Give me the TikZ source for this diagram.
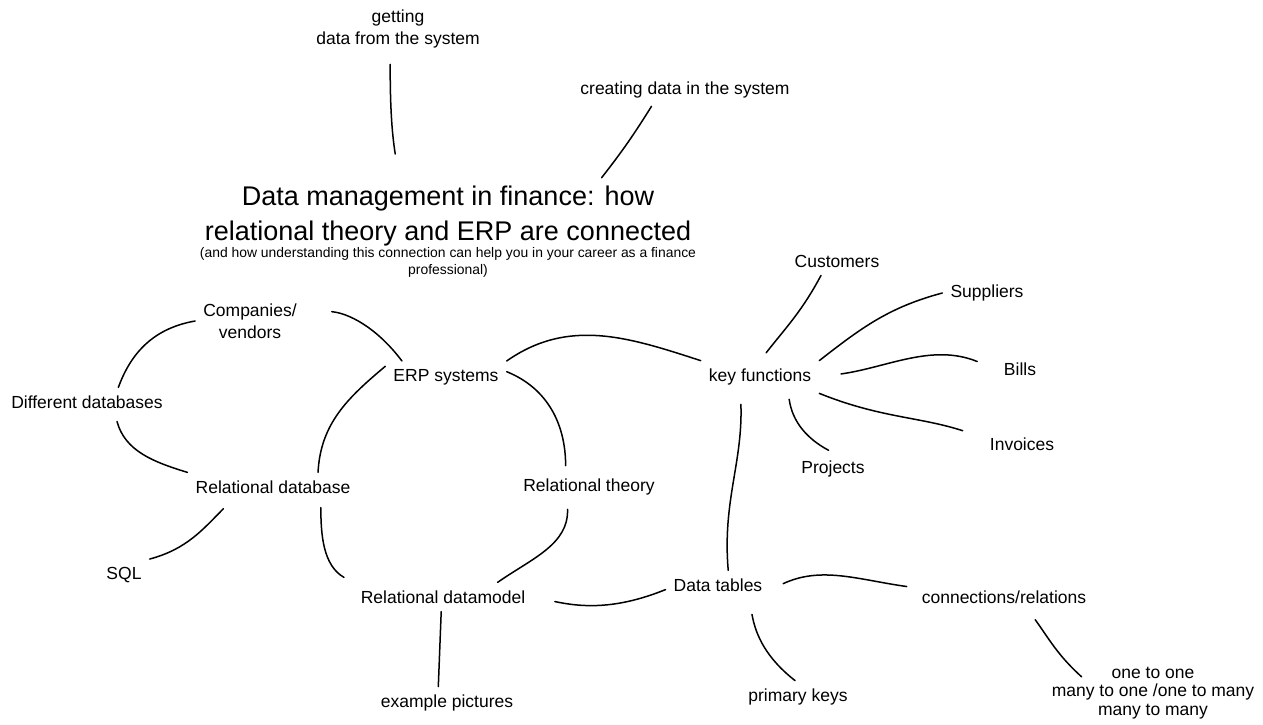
\documentclass[tikz,border=0pt]{standalone}
\usepackage{fontspec}
\setmainfont{Liberation Sans}

\begin{document}
\begin{tikzpicture}[x=1pt,y=1pt,
    topic/.style={font=\fontsize{17.5}{22}\selectfont, align=center, inner sep=8pt},
    branch/.style={line width=1.5pt, line cap=round}]
    % Page and margins
    \fill[white] (0,0) rectangle (1263,-725);
    \useasboundingbox (0,0) rectangle (1263,-725);
    % Draw title
    \node[align=center, font=\fontsize{27}{35}\selectfont, inner sep=8pt] (title) at (448,-216) {Data management in finance: how\\relational theory and ERP are connected};
    \node[align=center, font=\fontsize{13.9}{17}\selectfont, inner sep=0pt] (sub) at (448,-262) {(and how understanding this connection can help you in your career as a finance\\professional)};
    % Draw topics
    \node[topic] (get) at (398,-29) {getting\\data from the system};
    \node[topic] (create) at (685,-90) {creating data in the system};
    \node[topic] (cust) at (837,-261) {Customers};
    \node[topic] (supp) at (987,-293) {Suppliers};
    \node[topic] (comp) at (250,-321) {Companies/\\vendors};
    \node[topic] (erp) at (446,-377) {ERP systems};
    \node[topic] (keyf) at (760,-377) {key functions};
    \node[topic] (bills) at (1020,-369) {Bills};
    \node[topic] (diffdb) at (87,-402) {Different databases};
    \node[topic] (inv) at (1022,-444) {Invoices};
    \node[topic] (proj) at (833,-469) {Projects};
    \node[topic] (reldb) at (273,-487) {Relational database};
    \node[topic] (relth) at (589,-487) {Relational theory};
    \node[topic] (sql) at (124,-575) {SQL};
    \node[topic] (model) at (443,-597) {Relational datamodel};
    \node[topic] (tables) at (718,-585) {Data tables};
    \node[topic] (conn) at (1004,-597) {connections/relations};
    \node[topic] (pics) at (447,-703) {example pictures};
    \node[topic] (pkeys) at (798,-697) {primary keys};
    \node[topic, font=\fontsize{17.5}{18.5}\selectfont, inner sep=2pt] (kinds) at (1153,-693) {one to one\\many to one /one to many\\many to many};
    % Draw branches around the title
    \draw[branch, shorten <=8pt, shorten >=24pt] (get.-106) to[out=-90,in=99] (title.142);
    \draw[branch] (create.206) to[out=238,in=52] (title.14);
    % Draw branches around ERP systems
    \draw[branch, shorten <=27pt] (comp.12) to[out=-5,in=127] (erp.160);
    \draw[branch] (comp.west) to[out=190,in=70] (diffdb.25);
    \draw[branch, shorten <=5pt] (diffdb.-27) to[out=-75,in=163] (reldb.north west);
    \draw[branch] (erp.170) to[out=220,in=87] (reldb.18);
    \draw[branch, shorten >=5pt] (erp.5) to[out=-22,in=90] (relth.145);
    \draw[branch] (erp.north east) to[out=35,in=162] (keyf.north west);
    % Draw branches towards the datamodel
    \draw[branch, shorten <=6pt, shorten >=10pt] (reldb.-17) to[out=-90,in=150] (model.north west);
    \draw[branch, shorten <=6pt] (relth.217) to[out=-88,in=35] (model.15);
    \draw[branch, shorten <=10pt] (reldb.199) to[out=225,in=15] (sql.north east);
    \draw[branch] (model.263) -- (pics.118);
    \draw[branch, shorten <=22pt] (model.east) to[out=-12,in=202] (tables.185);
    % Draw branches of the data tables
    \draw[branch, shorten <=14pt, shorten >=7pt] (tables.-5) to[out=25,in=172] (conn.174);
    \draw[branch, shorten <=15pt] (tables.-25) to[out=-80,in=142] (pkeys.100);
    \draw[branch, shorten <=10pt] (conn.-30) to[out=-54,in=138] ([xshift=32pt,yshift=-12pt]kinds.north west);
    % Draw branches of the key functions
    \draw[branch, shorten <=10pt] (keyf.north) to[out=52,in=242] (cust.222);
    \draw[branch] (keyf.north east) to[out=38,in=195] (supp.west);
    \draw[branch, shorten <=22pt, shorten >=20pt] (keyf.east) to[out=8,in=158] (bills.west);
    \draw[branch, shorten >=20pt] (keyf.south east) to[out=-22,in=162] (inv.170);
    \draw[branch, shorten <=6pt, shorten >=5pt] (keyf.-30) to[out=-82,in=152] (proj.north);
    \draw[branch, shorten <=11pt] (keyf.220) to[out=-88,in=95] (tables.55);
\end{tikzpicture}
\end{document}
